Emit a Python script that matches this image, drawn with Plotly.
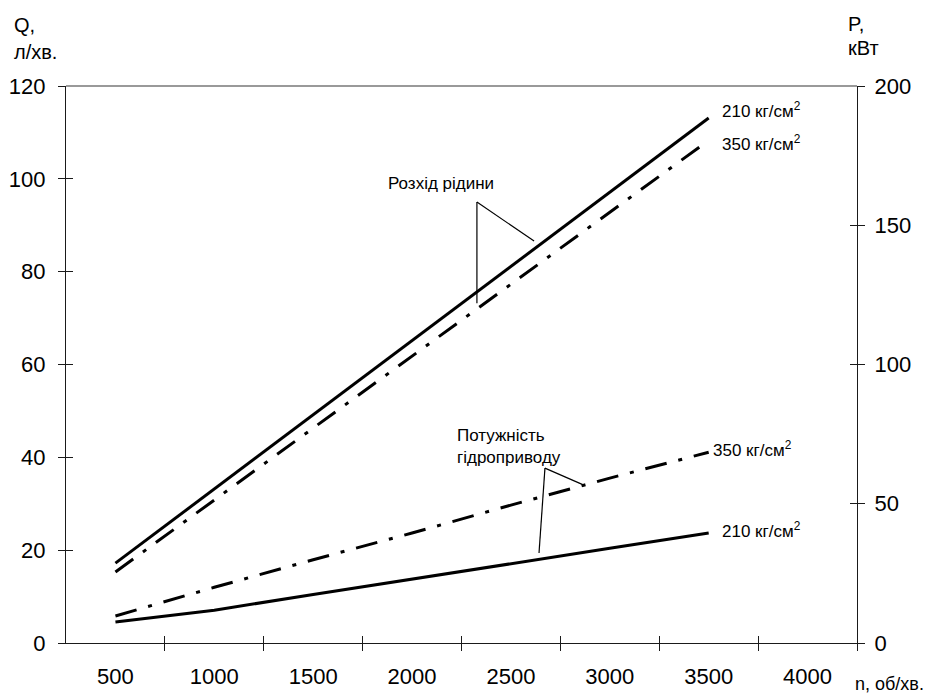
import plotly.graph_objects as go

# ---- data ----
n_rpm = [500, 1000, 1500, 2000, 2500, 3000, 3500]
q_210 = [17.2, 33.2, 49.2, 65.2, 81.2, 97.1, 113.1]
q_350 = [15.3, 30.8, 46.3, 61.8, 77.3, 92.8, 108.3]
p_210 = [7.5, 11.8, 17.4, 23.0, 28.6, 34.0, 39.5]
p_350 = [9.7, 20.0, 29.9, 39.5, 49.5, 59.2, 68.5]

x_ticks = [500, 1000, 1500, 2000, 2500, 3000, 3500, 4000]
x_marks = [750, 1250, 1750, 2250, 2750, 3250, 3750, 4250]
q_ticks = [0, 20, 40, 60, 80, 100, 120]
p_ticks = [0, 50, 100, 150, 200]

FONT = "Liberation Sans, Arial, sans-serif"
AX = "#1a1a1a"
DASHDOT = "22px,12px,4px,12px"

fig = go.Figure()
fig.add_trace(go.Scatter(x=n_rpm, y=q_210, mode="lines",
                         line=dict(color="black", width=3), xaxis="x", yaxis="y"))
fig.add_trace(go.Scatter(x=n_rpm, y=q_350, mode="lines",
                         line=dict(color="black", width=3, dash=DASHDOT), xaxis="x", yaxis="y"))
fig.add_trace(go.Scatter(x=n_rpm, y=p_210, mode="lines",
                         line=dict(color="black", width=3), xaxis="x", yaxis="y2"))
fig.add_trace(go.Scatter(x=n_rpm, y=p_350, mode="lines",
                         line=dict(color="black", width=3, dash=DASHDOT), xaxis="x", yaxis="y2"))

tickfont = dict(family=FONT, size=22, color="black")

# page body has an 8px margin, so the figure is shifted 8px; compensate
fig.update_layout(
    width=923, height=685,
    margin=dict(l=58, r=74, t=78, b=50, autoexpand=False),
    paper_bgcolor="white", plot_bgcolor="white",
    showlegend=False,
    font=dict(family=FONT, color="black"),
    xaxis=dict(range=[250, 4250], tickvals=x_ticks, ticktext=[str(v) for v in x_ticks],
               ticks="", showgrid=False, zeroline=False, showline=True,
               linecolor=AX, linewidth=1.3, tickfont=tickfont, ticklabelstandoff=13,
               minor=dict(tickvals=x_marks, ticks="outside", ticklen=7, tickwidth=1, tickcolor=AX,
                          showgrid=False)),
    xaxis2=dict(range=[250, 4250], overlaying="x", anchor="y", side="bottom",
                tickvals=x_marks, ticks="inside", ticklen=7, tickwidth=1, tickcolor=AX,
                showticklabels=False, showgrid=False, zeroline=False, showline=False),
    yaxis=dict(range=[0, 120], tickvals=q_ticks, ticks="outside", ticklen=7, tickwidth=1,
               tickcolor=AX, showgrid=False, zeroline=False, showline=True,
               linecolor=AX, linewidth=1.3, tickfont=tickfont, ticklabelstandoff=8),
    yaxis3=dict(range=[0, 120], overlaying="y", anchor="x", side="left",
                tickvals=q_ticks, ticks="inside", ticklen=7, tickwidth=1, tickcolor=AX,
                showticklabels=False, showgrid=False, zeroline=False, showline=False),
    yaxis2=dict(range=[0, 200], overlaying="y", anchor="x", side="right",
                tickvals=p_ticks, ticks="outside", ticklen=7, tickwidth=1, tickcolor=AX,
                showgrid=False, zeroline=False, showline=True, linecolor=AX, linewidth=1.3,
                tickfont=tickfont, ticklabelstandoff=5),
    yaxis4=dict(range=[0, 200], overlaying="y", anchor="x", side="right",
                tickvals=p_ticks, ticks="inside", ticklen=7, tickwidth=1, tickcolor=AX,
                showticklabels=False, showgrid=False, zeroline=False, showline=False),
)

# invisible traces to activate overlay axes
fig.add_trace(go.Scatter(x=[n_rpm[0]], y=[q_ticks[0]], mode="markers", marker=dict(opacity=0),
                         xaxis="x2", yaxis="y3", hoverinfo="skip"))
fig.add_trace(go.Scatter(x=[n_rpm[0]], y=[p_ticks[0]], mode="markers", marker=dict(opacity=0),
                         xaxis="x2", yaxis="y4", hoverinfo="skip"))

# top border
fig.add_shape(type="line", xref="paper", yref="paper", x0=0, x1=1, y0=1, y1=1,
              line=dict(color="#777777", width=1.3))

# pointer lines
ptr = dict(color="black", width=1.2)
fig.add_shape(type="line", xref="x", yref="y", x0=2328, y0=95.0, x1=2328, y1=73.2, line=ptr)
fig.add_shape(type="line", xref="x", yref="y", x0=2328, y0=95.0, x1=2617, y1=86.6, line=ptr)
fig.add_shape(type="line", xref="x", yref="y2", x0=2672, y0=62.8, x1=2642, y1=32.3, line=ptr)
fig.add_shape(type="line", xref="x", yref="y2", x0=2672, y0=62.8, x1=2869, y1=56.7, line=ptr)

lab = dict(family=FONT, size=17, color="black")
unit = dict(family=FONT, size=20, color="black")

def ann(text, x, y, xref="x", yref="y", font=lab, xanchor="left", yanchor="middle", align="left"):
    fig.add_annotation(text=text, x=x, y=y, xref=xref, yref=yref, showarrow=False,
                       font=font, xanchor=xanchor, yanchor=yanchor, align=align, borderpad=0)

ann("210 кг/см<sup>2</sup>", 3562, 114.8)
ann("350 кг/см<sup>2</sup>", 3562, 107.7)
ann("350 кг/см<sup>2</sup>", 3517, 69.7, yref="y2")
ann("210 кг/см<sup>2</sup>", 3562, 40.6, yref="y2")
ann("Розхід рідини", 1873, 98.9)
ann("Потужність<br>гідроприводу", 2222, 70.7, yref="y2")

# axis unit labels (paper coords; plot area spans 66..857 x 86..643 in page pixels)
def px2paper(px, py):
    return (px - 66) / 791, (643 - py) / 557

x, y = px2paper(13, 25); ann("Q,", x, y, xref="paper", yref="paper", font=unit)
x, y = px2paper(13, 52); ann("л/хв.", x, y, xref="paper", yref="paper", font=unit)
x, y = px2paper(847, 24); ann("P,", x, y, xref="paper", yref="paper", font=unit)
x, y = px2paper(847, 48); ann("кВт", x, y, xref="paper", yref="paper", font=unit)
x, y = px2paper(854, 684); ann("n, об/хв.", x, y, xref="paper", yref="paper", font=dict(family=FONT, size=18, color="black"))

fig.write_html("out.html")
